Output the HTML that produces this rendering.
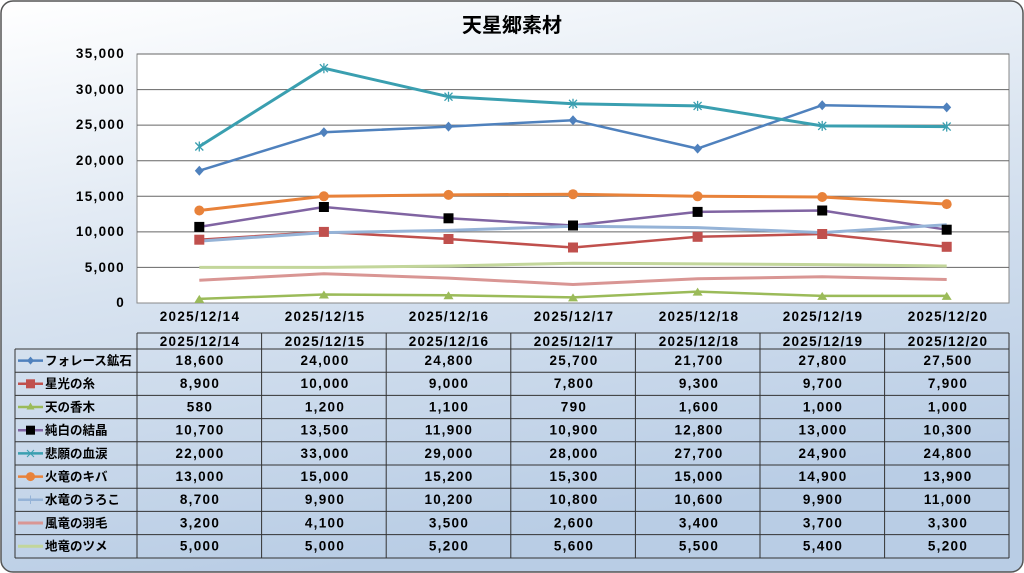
<!DOCTYPE html>
<html><head><meta charset="utf-8"><style>
html,body{margin:0;padding:0;background:#fff}
svg{display:block}
text{font-family:"Liberation Sans","Noto Sans CJK JP",sans-serif;fill:#000}
.n{font-size:13.5px;letter-spacing:1.3px}
</style></head><body>
<svg width="1024" height="573" viewBox="0 0 1024 573">
<defs>
<linearGradient id="bg" x1="0" y1="0" x2="0.3" y2="1">
<stop offset="0" stop-color="#ffffff"/><stop offset="0.5" stop-color="#d8e3f0"/><stop offset="1" stop-color="#b9cde5"/>
</linearGradient>
</defs>
<rect x="1" y="1" width="1022" height="571" rx="12" fill="url(#bg)" stroke="#555" stroke-width="1.5"/>
<text x="512" y="32" font-size="20" font-weight="bold" text-anchor="middle">天星郷素材</text>
<rect x="137" y="54" width="872" height="249" fill="#fff" stroke="#888"/>
<g stroke="#666" stroke-width="1">
<line x1="137" x2="1009" y1="89.6" y2="89.6"/><line x1="137" x2="1009" y1="125.1" y2="125.1"/>
<line x1="137" x2="1009" y1="160.7" y2="160.7"/><line x1="137" x2="1009" y1="196.3" y2="196.3"/>
<line x1="137" x2="1009" y1="231.9" y2="231.9"/><line x1="137" x2="1009" y1="267.4" y2="267.4"/>
<line x1="137" x2="1009" y1="54" y2="54"/>
</g>
<g class="n" font-weight="bold" text-anchor="end">
<text x="125" y="58">35,000</text><text x="125" y="94">30,000</text><text x="125" y="129">25,000</text>
<text x="125" y="165">20,000</text><text x="125" y="201">15,000</text><text x="125" y="236">10,000</text>
<text x="125" y="272">5,000</text><text x="125" y="307">0</text>
</g>
<g class="n" font-weight="bold" text-anchor="middle">
<text x="200" y="321">2025/12/14</text><text x="325" y="321">2025/12/15</text><text x="449" y="321">2025/12/16</text>
<text x="574" y="321">2025/12/17</text><text x="699" y="321">2025/12/18</text><text x="823" y="321">2025/12/19</text><text x="948" y="321">2025/12/20</text>
</g>
<g fill="none" stroke-linejoin="round">
<polyline stroke="#c3d69b" stroke-width="3" points="199.3,267.4 323.9,267.4 448.5,266 573,263.2 697.6,263.9 822.2,264.6 946.7,266"/>
<polyline stroke="#d99694" stroke-width="3" points="199.3,280.2 323.9,273.8 448.5,278.1 573,284.5 697.6,278.8 822.2,276.7 946.7,279.5"/>
<polyline stroke="#9bbb59" stroke-width="2.5" points="199.3,298.9 323.9,294.5 448.5,295.2 573,297.4 697.6,291.6 822.2,295.9 946.7,295.9"/>
<polyline stroke="#c0504d" stroke-width="2.5" points="199.3,239.7 323.9,231.9 448.5,239 573,247.5 697.6,236.8 822.2,234 946.7,246.8"/>
<polyline stroke="#8064a2" stroke-width="2.5" points="199.3,226.9 323.9,207 448.5,218.3 573,225.5 697.6,211.9 822.2,210.5 946.7,229.7"/>
<polyline stroke="#95b3d7" stroke-width="3" points="199.3,241.1 323.9,232.6 448.5,230.4 573,226.2 697.6,227.6 822.2,232.6 946.7,224.7"/>
<polyline stroke="#e8823a" stroke-width="3" points="199.3,210.5 323.9,196.3 448.5,194.9 573,194.2 697.6,196.3 822.2,197 946.7,204.1"/>
<polyline stroke="#4f81bd" stroke-width="2.5" points="199.3,170.7 323.9,132.3 448.5,126.6 573,120.2 697.6,148.6 822.2,105.2 946.7,107.4"/>
<polyline stroke="#3a9fb0" stroke-width="3" points="199.3,146.5 323.9,68.2 448.5,96.7 573,103.8 697.6,105.9 822.2,125.9 946.7,126.6"/>
</g>
<g fill="#9bbb59">
<path d="M199.3,294.9l5,8h-10z"/><path d="M323.9,290.5l5,8h-10z"/><path d="M448.5,291.2l5,8h-10z"/><path d="M573,293.4l5,8h-10z"/><path d="M697.6,287.6l5,8h-10z"/><path d="M822.2,291.9l5,8h-10z"/><path d="M946.7,291.9l5,8h-10z"/>
</g>
<g fill="#c0504d">
<rect x="194.3" y="234.7" width="10" height="10"/><rect x="318.9" y="226.9" width="10" height="10"/><rect x="443.5" y="234" width="10" height="10"/><rect x="568" y="242.5" width="10" height="10"/><rect x="692.6" y="231.8" width="10" height="10"/><rect x="817.2" y="229" width="10" height="10"/><rect x="941.7" y="241.8" width="10" height="10"/>
</g>
<g fill="#000">
<rect x="194.3" y="221.9" width="10" height="10"/><rect x="318.9" y="202" width="10" height="10"/><rect x="443.5" y="213.3" width="10" height="10"/><rect x="568" y="220.5" width="10" height="10"/><rect x="692.6" y="206.9" width="10" height="10"/><rect x="817.2" y="205.5" width="10" height="10"/><rect x="941.7" y="224.7" width="10" height="10"/>
</g>
<g fill="#e8823a">
<circle cx="199.3" cy="210.5" r="5"/><circle cx="323.9" cy="196.3" r="5"/><circle cx="448.5" cy="194.9" r="5"/><circle cx="573" cy="194.2" r="5"/><circle cx="697.6" cy="196.3" r="5"/><circle cx="822.2" cy="197" r="5"/><circle cx="946.7" cy="204.1" r="5"/>
</g>
<g fill="#4f81bd">
<path d="M199.3,165.7l4.5,5-4.5,5-4.5-5z"/><path d="M323.9,127.3l4.5,5-4.5,5-4.5-5z"/><path d="M448.5,121.6l4.5,5-4.5,5-4.5-5z"/><path d="M573,115.2l4.5,5-4.5,5-4.5-5z"/><path d="M697.6,143.6l4.5,5-4.5,5-4.5-5z"/><path d="M822.2,100.2l4.5,5-4.5,5-4.5-5z"/><path d="M946.7,102.4l4.5,5-4.5,5-4.5-5z"/>
</g>
<g stroke="#3a9fb0" stroke-width="1.3">
<path d="M195.3,142.5l8,8M203.3,142.5l-8,8M199.3,141.5v10"/><path d="M319.9,64.2l8,8M327.9,64.2l-8,8M323.9,63.2v10"/><path d="M444.5,92.7l8,8M452.5,92.7l-8,8M448.5,91.7v10"/><path d="M569,99.8l8,8M577,99.8l-8,8M573,98.8v10"/><path d="M693.6,101.9l8,8M701.6,101.9l-8,8M697.6,100.9v10"/><path d="M818.2,121.9l8,8M826.2,121.9l-8,8M822.2,120.9v10"/><path d="M942.7,122.6l8,8M950.7,122.6l-8,8M946.7,121.6v10"/>
</g>
<!-- table -->
<g stroke="#333" stroke-width="1" fill="none">
<line x1="137" x2="1009" y1="333" y2="333"/>
<line x1="15" x2="1009" y1="349" y2="349"/>
<line x1="15" x2="1009" y1="372.2" y2="372.2"/><line x1="15" x2="1009" y1="395.4" y2="395.4"/>
<line x1="15" x2="1009" y1="418.6" y2="418.6"/><line x1="15" x2="1009" y1="441.8" y2="441.8"/>
<line x1="15" x2="1009" y1="465" y2="465"/><line x1="15" x2="1009" y1="488.2" y2="488.2"/>
<line x1="15" x2="1009" y1="511.4" y2="511.4"/><line x1="15" x2="1009" y1="534.6" y2="534.6"/>
<line x1="15" x2="1009" y1="558" y2="558"/>
<line x1="15" x2="15" y1="349" y2="558"/>
<line x1="137" x2="137" y1="333" y2="558"/><line x1="261.6" x2="261.6" y1="333" y2="558"/>
<line x1="386.2" x2="386.2" y1="333" y2="558"/><line x1="510.8" x2="510.8" y1="333" y2="558"/>
<line x1="635.4" x2="635.4" y1="333" y2="558"/><line x1="760" x2="760" y1="333" y2="558"/>
<line x1="884.6" x2="884.6" y1="333" y2="558"/><line x1="1009" x2="1009" y1="333" y2="558"/>
</g>
<g class="n" font-weight="bold" text-anchor="middle">
<text x="200" y="346">2025/12/14</text><text x="325" y="346">2025/12/15</text><text x="449" y="346">2025/12/16</text>
<text x="574" y="346">2025/12/17</text><text x="699" y="346">2025/12/18</text><text x="823" y="346">2025/12/19</text><text x="948" y="346">2025/12/20</text>
</g>
<g class="n" font-weight="bold" text-anchor="middle">
<g transform="translate(1,365)"><text x="199">18,600</text><text x="324">24,000</text><text x="448">24,800</text><text x="573">25,700</text><text x="698">21,700</text><text x="822">27,800</text><text x="947">27,500</text></g>
<g transform="translate(1,388.2)"><text x="199">8,900</text><text x="324">10,000</text><text x="448">9,000</text><text x="573">7,800</text><text x="698">9,300</text><text x="822">9,700</text><text x="947">7,900</text></g>
<g transform="translate(1,411.4)"><text x="199">580</text><text x="324">1,200</text><text x="448">1,100</text><text x="573">790</text><text x="698">1,600</text><text x="822">1,000</text><text x="947">1,000</text></g>
<g transform="translate(1,434.6)"><text x="199">10,700</text><text x="324">13,500</text><text x="448">11,900</text><text x="573">10,900</text><text x="698">12,800</text><text x="822">13,000</text><text x="947">10,300</text></g>
<g transform="translate(1,457.8)"><text x="199">22,000</text><text x="324">33,000</text><text x="448">29,000</text><text x="573">28,000</text><text x="698">27,700</text><text x="822">24,900</text><text x="947">24,800</text></g>
<g transform="translate(1,481)"><text x="199">13,000</text><text x="324">15,000</text><text x="448">15,200</text><text x="573">15,300</text><text x="698">15,000</text><text x="822">14,900</text><text x="947">13,900</text></g>
<g transform="translate(1,504.2)"><text x="199">8,700</text><text x="324">9,900</text><text x="448">10,200</text><text x="573">10,800</text><text x="698">10,600</text><text x="822">9,900</text><text x="947">11,000</text></g>
<g transform="translate(1,527.4)"><text x="199">3,200</text><text x="324">4,100</text><text x="448">3,500</text><text x="573">2,600</text><text x="698">3,400</text><text x="822">3,700</text><text x="947">3,300</text></g>
<g transform="translate(1,550.6)"><text x="199">5,000</text><text x="324">5,000</text><text x="448">5,200</text><text x="573">5,600</text><text x="698">5,500</text><text x="822">5,400</text><text x="947">5,200</text></g>
</g>
<!-- legend keys -->
<g stroke-width="2.5">
<line x1="18" x2="43" y1="360.6" y2="360.6" stroke="#4f81bd"/><path d="M30.5,356.6l3.5,4-3.5,4-3.5-4z" fill="#4f81bd"/>
<line x1="18" x2="43" y1="383.8" y2="383.8" stroke="#c0504d"/><rect x="26" y="379.3" width="9" height="9" fill="#c0504d"/>
<line x1="18" x2="43" y1="407" y2="407" stroke="#9bbb59"/><path d="M30.5,402.5l4,7h-8z" fill="#9bbb59"/>
<line x1="18" x2="43" y1="430.2" y2="430.2" stroke="#8064a2"/><rect x="26" y="425.7" width="9" height="9" fill="#000"/>
<line x1="18" x2="43" y1="453.4" y2="453.4" stroke="#3a9fb0"/><path d="M27,450l7,7M34,450l-7,7" stroke="#3a9fb0" stroke-width="1"/>
<line x1="18" x2="43" y1="476.6" y2="476.6" stroke="#e8823a"/><circle cx="30.5" cy="476.6" r="4.5" fill="#e8823a"/>
<line x1="18" x2="43" y1="499.8" y2="499.8" stroke="#95b3d7"/><line x1="30.5" x2="30.5" y1="495.5" y2="504" stroke="#95b3d7" stroke-width="1"/>
<line x1="18" x2="43" y1="523" y2="523" stroke="#d99694" stroke-width="3"/>
<line x1="18" x2="43" y1="546.2" y2="546.2" stroke="#c3d69b" stroke-width="3"/>
</g>
<g font-size="12.5" font-weight="bold">
<text x="45" y="365">フォレース鉱石</text><text x="45" y="388.2">星光の糸</text><text x="45" y="411.4">天の香木</text>
<text x="45" y="434.6">純白の結晶</text><text x="45" y="457.8">悲願の血涙</text><text x="45" y="481">火竜のキバ</text>
<text x="45" y="504.2">水竜のうろこ</text><text x="45" y="527.4">風竜の羽毛</text><text x="45" y="550.6">地竜のツメ</text>
</g>
</svg>
</body></html>
